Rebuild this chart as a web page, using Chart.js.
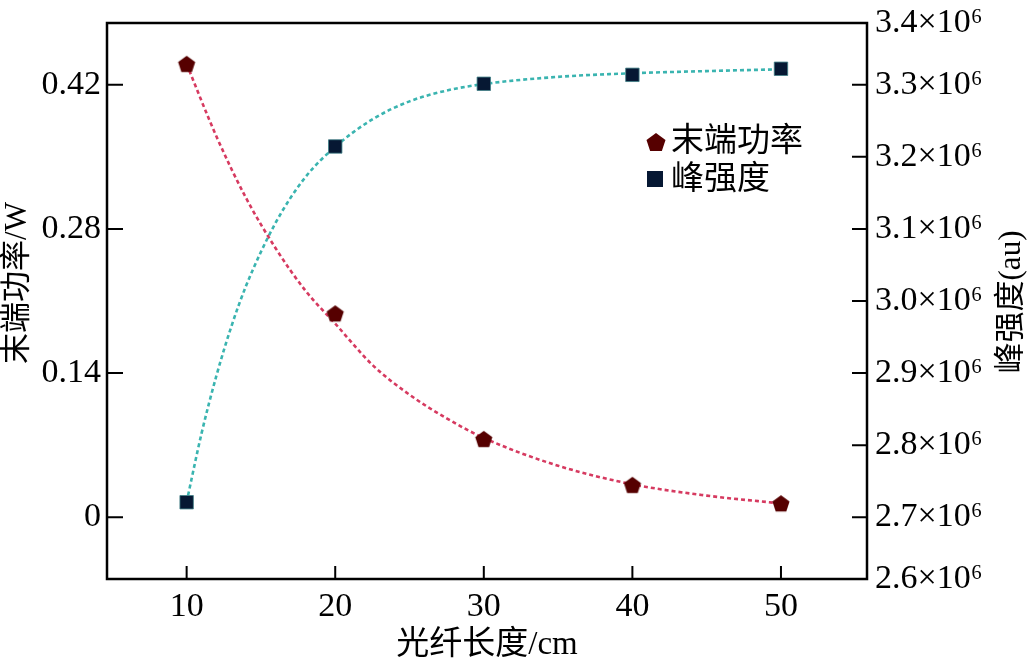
<!DOCTYPE html>
<html>
<head>
<meta charset="utf-8">
<script src="https://cdn.jsdelivr.net/npm/chart.js@4.4.0/dist/chart.umd.min.js"></script>
<style>
  html, body { margin: 0; padding: 0; background: #fff; }
  canvas { display: block; }
</style>
</head>
<body>
<canvas id="chart" width="1031" height="663"></canvas>
<script>
// measured points
const fiberLength = [10, 20, 30, 40, 50];
const endPower = [0.4404, 0.1981, 0.0761, 0.0315, 0.0136];
const peakIntensity = [2.7208e6, 3.2144e6, 3.3014e6, 3.3138e6, 3.3222e6];

// fitted curves
const powerFitX = [10, 12, 14, 16, 18, 20, 22.5, 25, 27.5, 30, 35, 40, 45, 50];
const powerFitY = [0.440, 0.370, 0.310, 0.261, 0.220, 0.188, 0.148, 0.119, 0.096, 0.077, 0.050, 0.032, 0.021, 0.0134];
const peakFitX = [10, 11, 12, 13, 14, 16, 18, 20, 22.5, 25, 27.5, 30, 35, 40, 45, 50];
const peakFitY = [2.721e6, 2.816e6, 2.896e6, 2.964e6, 3.021e6, 3.109e6, 3.172e6, 3.214e6, 3.252e6, 3.277e6, 3.292e6, 3.301e6, 3.311e6, 3.316e6, 3.319e6, 3.3215e6];

// axes
const xTicks = [10, 20, 30, 40, 50];
const powerTicks = [0, 0.14, 0.28, 0.42];
const peakTicks = [2.6143e6, 2.7e6, 2.8e6, 2.9e6, 3.0e6, 3.1e6, 3.2e6, 3.3e6, 3.3857e6];
const peakTickLabels = ['2.6', '2.7', '2.8', '2.9', '3.0', '3.1', '3.2', '3.3', '3.4'];

const serif = '"Liberation Serif", "Noto Sans CJK SC", serif';
const cjk = '"Liberation Serif", "Noto Sans CJK SC", sans-serif';

// pentagon marker
function pentagon(r, color) {
    const c = document.createElement('canvas');
    const s = Math.ceil(r * 2 + 4);
    c.width = s; c.height = s;
    const g = c.getContext('2d');
    g.fillStyle = color;
    g.beginPath();
    for (let i = 0; i < 5; i++) {
        const a = -Math.PI / 2 + i * 2 * Math.PI / 5;
        const px = s / 2 + r * Math.cos(a), py = s / 2 + 1 + r * Math.sin(a);
        if (i === 0) g.moveTo(px, py); else g.lineTo(px, py);
    }
    g.closePath();
    g.fill();
    return c;
}
const powerMarker = pentagon(9, '#560000');
const legendPowerMarker = pentagon(10, '#560000');

const pts = (xs, ys) => xs.map((x, i) => ({x: x, y: ys[i]}));

// keep the plot frame where the figure has it
function noPad(s) {
    s.paddingTop = 0; s.paddingBottom = 0;
    s.paddingLeft = 0; s.paddingRight = 0;
}

const framePlugin = {
    id: 'frame',
    afterDraw(chart) {
        const {ctx, chartArea: a, scales} = chart;
        ctx.save();
        ctx.strokeStyle = '#000';
        ctx.lineWidth = 2.5;
        ctx.strokeRect(a.left, a.top, a.right - a.left, a.bottom - a.top);

        // inward ticks
        ctx.lineWidth = 2;
        ctx.beginPath();
        scales.x.ticks.forEach(t => {
            const px = scales.x.getPixelForValue(t.value);
            ctx.moveTo(px, a.bottom); ctx.lineTo(px, a.bottom - 13);
        });
        scales.y.ticks.forEach(t => {
            const py = scales.y.getPixelForValue(t.value);
            ctx.moveTo(a.left, py); ctx.lineTo(a.left + 16, py);
        });
        scales.y1.ticks.forEach((t, i) => {
            if (i === 0 || i === scales.y1.ticks.length - 1) return;
            const py = scales.y1.getPixelForValue(t.value);
            ctx.moveTo(a.right, py); ctx.lineTo(a.right - 15, py);
        });
        ctx.stroke();

        // axis titles
        ctx.fillStyle = '#000';
        ctx.textAlign = 'center';
        ctx.textBaseline = 'middle';
        ctx.font = '31px ' + cjk;
        ctx.save();
        ctx.translate(18, 283);
        ctx.rotate(-Math.PI / 2);
        ctx.fillText('末端功率/W', 0, 0);
        ctx.restore();
        ctx.save();
        ctx.translate(1012, 302);
        ctx.rotate(-Math.PI / 2);
        ctx.fillText('峰强度(au)', 0, 0);
        ctx.restore();
        ctx.font = '33px ' + cjk;
        ctx.fillText('光纤长度/cm', (a.left + a.right) / 2, 645);

        // legend
        ctx.textAlign = 'left';
        ctx.font = '33px ' + cjk;
        ctx.drawImage(legendPowerMarker, 656 - legendPowerMarker.width / 2, 142 - legendPowerMarker.height / 2);
        ctx.fillText(chart.data.datasets[0].label, 671, 142);
        ctx.fillStyle = '#061833';
        ctx.fillRect(647, 171, 16, 16);
        ctx.fillStyle = '#000';
        ctx.fillText(chart.data.datasets[1].label, 671, 180);
        ctx.restore();
    }
};

const ctx = document.getElementById('chart').getContext('2d');
new Chart(ctx, {
    type: 'scatter',
    data: {
        datasets: [
            {
                label: '末端功率',
                data: pts(fiberLength, endPower),
                yAxisID: 'y',
                pointStyle: powerMarker,
                pointRadius: 9,
                order: 0
            },
            {
                label: '峰强度',
                data: pts(fiberLength, peakIntensity),
                yAxisID: 'y1',
                pointStyle: 'rect',
                pointRadius: 9.5,
                backgroundColor: '#061833',
                borderColor: '#3f7f86',
                borderWidth: 0.8,
                order: 0
            },
            {
                label: 'power fit',
                type: 'line',
                data: pts(powerFitX, powerFitY),
                yAxisID: 'y',
                borderColor: '#d63a60',
                borderWidth: 2.6,
                borderDash: [4, 3],
                pointRadius: 0,
                cubicInterpolationMode: 'monotone',
                fill: false,
                order: 1
            },
            {
                label: 'peak fit',
                type: 'line',
                data: pts(peakFitX, peakFitY),
                yAxisID: 'y1',
                borderColor: '#3ab4b0',
                borderWidth: 2.6,
                borderDash: [4, 3],
                pointRadius: 0,
                cubicInterpolationMode: 'monotone',
                fill: false,
                order: 1
            }
        ]
    },
    options: {
        responsive: false,
        animation: false,
        layout: { padding: { top: 23, left: 0, right: 0, bottom: 0 } },
        plugins: {
            legend: { display: false },
            tooltip: { enabled: false }
        },
        scales: {
            x: {
                type: 'linear',
                min: 4.64,
                max: 55.79,
                grid: { display: false, drawTicks: false },
                border: { display: false },
                ticks: {
                    padding: 8,
                    color: '#000',
                    font: { family: serif, size: 34 }
                },
                afterBuildTicks: s => { s.ticks = xTicks.map(v => ({value: v})); },
                afterFit: s => { s.height = 84; noPad(s); }
            },
            y: {
                position: 'left',
                min: -0.06,
                max: 0.48,
                grid: { display: false, drawTicks: false },
                border: { display: false },
                ticks: {
                    padding: 6,
                    color: '#000',
                    font: { family: serif, size: 34 },
                    callback: v => String(v)
                },
                afterBuildTicks: s => { s.ticks = powerTicks.map(v => ({value: v})); },
                afterFit: s => { s.width = 107; noPad(s); }
            },
            y1: {
                position: 'right',
                min: 2.61429e6,
                max: 3.38571e6,
                grid: { display: false, drawTicks: false },
                border: { display: false },
                ticks: {
                    padding: 8,
                    color: '#000',
                    font: { family: serif, size: 34 },
                    callback: (v, i) => peakTickLabels[i] + '×10⁶'
                },
                afterBuildTicks: s => { s.ticks = peakTicks.map(v => ({value: v})); },
                afterFit: s => { s.width = 164; noPad(s); }
            }
        }
    },
    plugins: [framePlugin]
});
</script>
</body>
</html>
